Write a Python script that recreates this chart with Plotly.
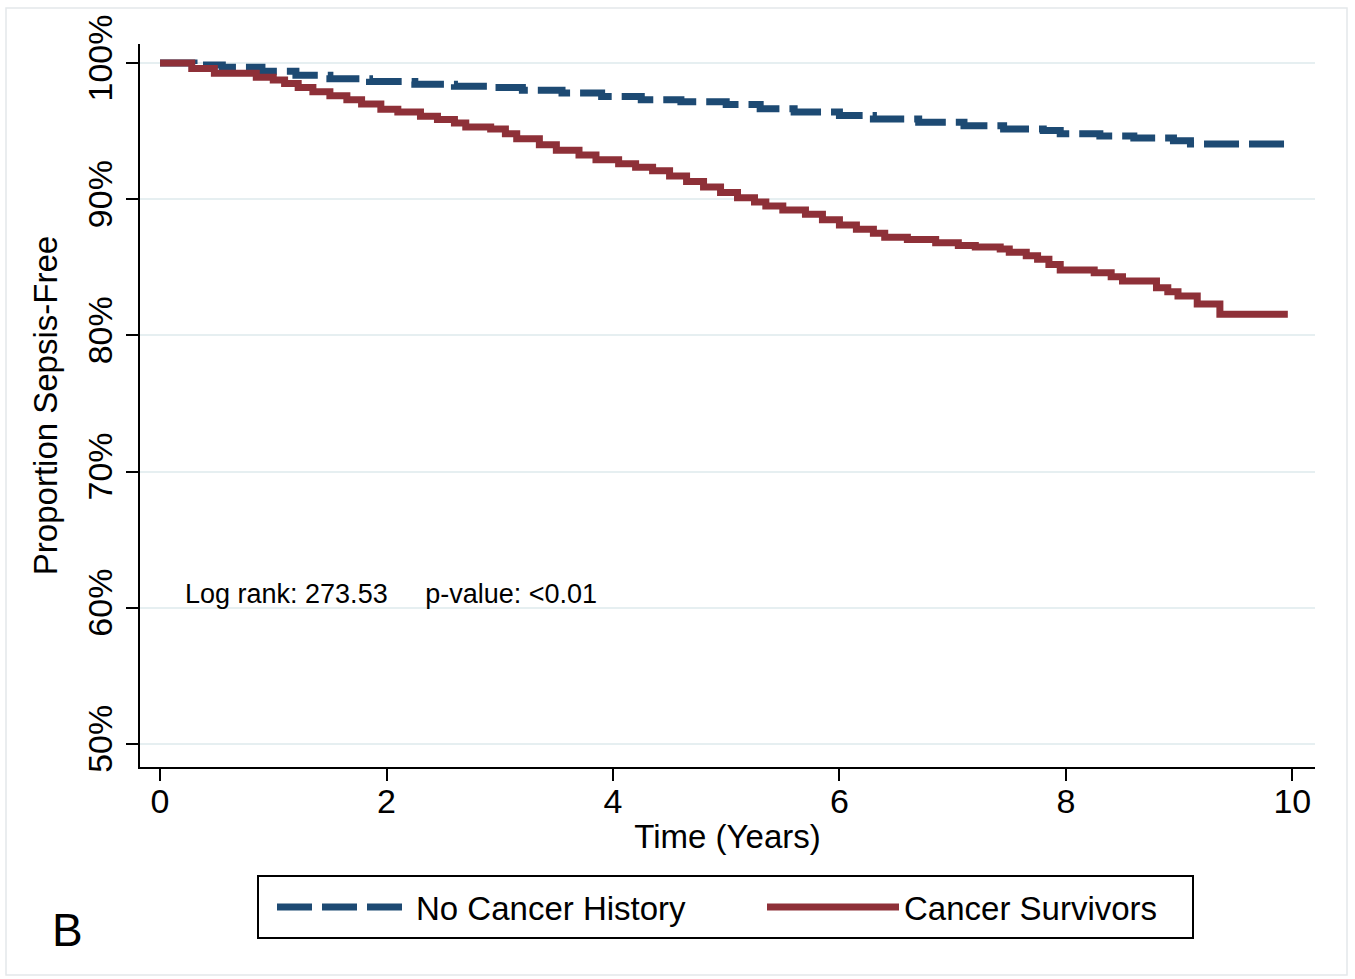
import plotly.graph_objects as go

# ---- data ----
time_no_cancer = [0, 0.3, 0.55, 0.9, 1.2, 1.5, 1.85, 2.25, 2.6, 2.9, 3.2, 3.55, 3.9, 4.25,
                  4.6, 5.0, 5.3, 5.6, 6.0, 6.3, 6.7, 7.1, 7.45, 7.8, 7.95, 8.3, 8.6, 8.95,
                  9.1, 9.96]
surv_no_cancer = [100, 99.85, 99.7, 99.4, 99.1, 98.85, 98.65, 98.45, 98.3, 98.2, 98.0, 97.8,
                  97.55, 97.3, 97.15, 96.95, 96.65, 96.4, 96.15, 95.9, 95.65, 95.4, 95.15,
                  95.05, 94.8, 94.65, 94.5, 94.3, 94.05, 94.05]

time_cancer = [0, 0.28, 0.48, 0.85, 1.0, 1.1, 1.22, 1.35, 1.5, 1.65, 1.78, 1.95, 2.1, 2.3,
               2.45, 2.6, 2.7, 2.92, 3.05, 3.15, 3.35, 3.5, 3.7, 3.85, 4.05, 4.2, 4.35, 4.5,
               4.65, 4.8, 4.95, 5.1, 5.25, 5.35, 5.5, 5.7, 5.85, 6.0, 6.15, 6.3, 6.4, 6.6,
               6.85, 7.05, 7.2, 7.42, 7.5, 7.65, 7.75, 7.85, 7.95, 8.25, 8.4, 8.5, 8.8,
               8.9, 8.99, 9.16, 9.36, 9.96]
surv_cancer = [100, 99.6, 99.25, 98.95, 98.75, 98.5, 98.2, 97.9, 97.6, 97.3, 97.0, 96.6,
               96.4, 96.1, 95.85, 95.6, 95.3, 95.15, 94.8, 94.45, 94.0, 93.6, 93.25, 92.9,
               92.6, 92.35, 92.1, 91.7, 91.3, 90.9, 90.5, 90.1, 89.8, 89.5, 89.2, 88.9,
               88.5, 88.1, 87.8, 87.5, 87.2, 87.05, 86.8, 86.6, 86.5, 86.35, 86.1, 85.85,
               85.6, 85.2, 84.8, 84.6, 84.3, 84.0, 83.5, 83.2, 82.9, 82.3, 81.55, 81.55]

x_ticks = [0, 2, 4, 6, 8, 10]
y_ticks = [50, 60, 70, 80, 90, 100]
y_ticktext = ["50%", "60%", "70%", "80%", "90%", "100%"]
series_names = ["No Cancer History", "Cancer Survivors"]
annotation_text = "Log rank: 273.53     p-value: <0.01"
panel_label = "B"

BLUE = "#1D4A73"
RED = "#8E3038"
FONT = "Liberation Sans, Arial, Helvetica, sans-serif"

W, H = 1355, 979
ML, MR, MT, MB = 140, 40, 44, 212
PW, PH = W - ML - MR, H - MT - MB


def px_x(p):
    return (p - ML) / PW


def px_y(p):
    return (H - MB - p) / PH


fig = go.Figure()
fig.add_trace(go.Scatter(
    x=time_no_cancer, y=surv_no_cancer, mode="lines", name=series_names[0],
    line=dict(color=BLUE, width=7, dash="35px,10px", shape="hv"), legend="legend",
))
fig.add_trace(go.Scatter(
    x=time_cancer, y=surv_cancer, mode="lines", name=series_names[1],
    line=dict(color=RED, width=7, shape="hv"), legend="legend2",
))

legend_common = dict(
    orientation="h", yanchor="middle", y=px_y(907), xanchor="left",
    borderwidth=0, bgcolor="rgba(0,0,0,0)", font=dict(size=33, family=FONT),
)

fig.update_layout(
    width=W, height=H,
    margin=dict(l=ML, r=MR, t=MT, b=MB),
    paper_bgcolor="white", plot_bgcolor="white",
    font=dict(family=FONT, color="black", size=30),
    showlegend=True,
    legend=dict(x=px_x(272), itemwidth=134, **legend_common),
    legend2=dict(x=px_x(762), itemwidth=132, **legend_common),
    xaxis=dict(
        range=[-0.177, 10.2], tickvals=x_ticks, ticks="outside", ticklen=12,
        tickwidth=2, tickcolor="black", showline=True, linecolor="black", linewidth=2,
        showgrid=False, zeroline=False, tickfont=dict(size=34), ticklabelstandoff=-9,
        title=dict(text="Time (Years)", font=dict(size=33), standoff=6),
    ),
    yaxis=dict(
        range=[48.3, 101.4], tickvals=y_ticks, ticktext=y_ticktext, tickangle=-90,
        ticks="outside", ticklen=12, tickwidth=2, tickcolor="black", showline=True,
        linecolor="black", linewidth=2, showgrid=True, gridcolor="#E6EFF1", gridwidth=2,
        zeroline=False, tickfont=dict(size=34),
        title=dict(text="Proportion Sepsis-Free", font=dict(size=33), standoff=14),
    ),
)

fig.add_annotation(
    x=0.2, y=61.0, xref="x", yref="y", text=annotation_text, showarrow=False,
    xanchor="left", yanchor="middle", font=dict(size=27, family=FONT),
)
fig.add_annotation(
    x=px_x(67), y=px_y(930), xref="paper", yref="paper", text=panel_label, showarrow=False,
    xanchor="center", yanchor="middle", font=dict(size=46, family=FONT),
)
# legend frame
fig.add_shape(
    type="rect", xref="paper", yref="paper",
    x0=px_x(258), x1=px_x(1193), y0=px_y(938), y1=px_y(876),
    line=dict(color="black", width=2), layer="above",
)
# faint outer frame of the figure panel
fig.add_shape(
    type="rect", xref="paper", yref="paper",
    x0=px_x(6), x1=px_x(1347), y0=px_y(975), y1=px_y(8),
    line=dict(color="#E4E8EA", width=1.5), layer="below",
)

fig.write_html("out.html", config={"displayModeBar": False},
               post_script="document.body.style.margin='0px';")
